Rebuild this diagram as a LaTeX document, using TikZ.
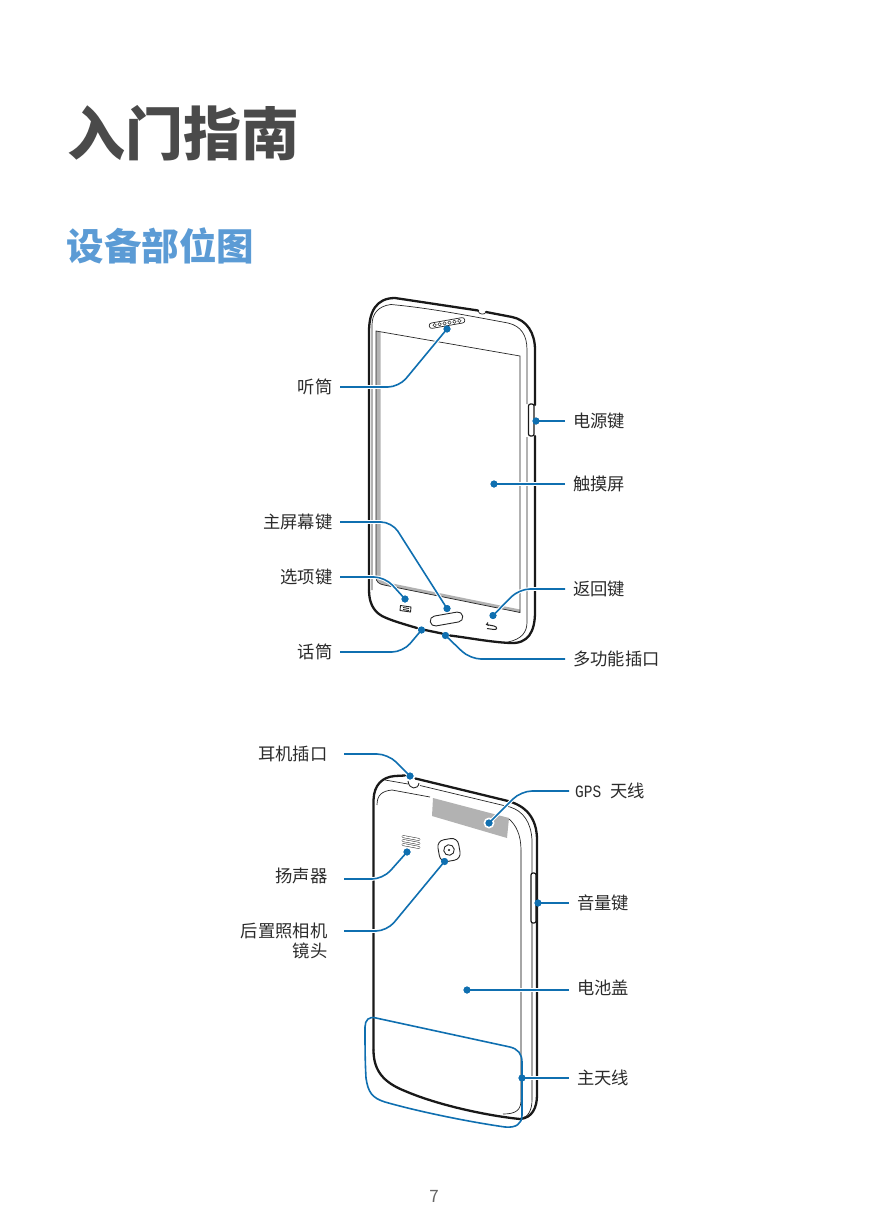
\documentclass[tikz,border=0pt]{standalone}
\usepackage{fontspec}
\setmainfont{Noto Sans CJK SC}
\newfontfamily\gpsfont[FakeStretch=0.84]{Liberation Mono}
\definecolor{calloutblue}{HTML}{0F6FB0}
\definecolor{titlegray}{HTML}{4A4A4A}
\definecolor{headblue}{HTML}{5B9BD5}
\definecolor{labelgray}{HTML}{2B2B2B}
\definecolor{panelgray}{HTML}{B2B2B2}
\tikzset{body/.style={draw=black!90, line width=2.3pt, line cap=round},
trim/.style={draw=black!85, line width=.7pt},
lighttrim/.style={draw=black!35, line width=1.2pt},
callout/.style={preaction={draw=white, line width=3.6pt}, draw=calloutblue, line width=1.6pt, rounded corners=11pt},
spot/.style={circle, fill=calloutblue, inner sep=0pt, minimum size=7pt},
leftlabel/.style={anchor=east, font=\fontsize{17.3}{20}\selectfont, text=labelgray, inner xsep=7.5pt, inner ysep=0pt, text height=13.2pt, text depth=0pt},
rightlabel/.style={anchor=west, font=\fontsize{17.3}{20}\selectfont, text=labelgray, inner xsep=8pt, inner ysep=0pt, text height=13.2pt, text depth=0pt}
}
\begin{document}
\begin{tikzpicture}[x=1pt, y=-1pt]
\useasboundingbox (0,0) rectangle (869,1228);
\node[anchor=west, inner sep=0pt, text=titlegray, font=\fontsize{58}{60}\selectfont\bfseries] (Title) at (67,133) {入门指南};
\node[anchor=west, inner sep=0pt, text=headblue, font=\fontsize{37.5}{40}\selectfont\bfseries] (Heading) at (66.5,246) {设备部位图};
\node[text=black!60, font=\fontsize{17}{20}\selectfont] (Page) at (434,1196) {7};

% front of the phone
\fill[panelgray] (376,331) -- (376,577) .. controls (376,582) and (379,584) .. (384,585) -- (520,612.5) -- (520,609.5) -- (385,582) .. controls (382,581) and (380.5,579) .. (380.5,575) -- (380.5,332) -- cycle;
\draw[trim] (376,331) -- (520,356) -- (520,612.5) -- (384,585) .. controls (379,584) and (376,582) .. (376,577) -- cycle;
\draw[body] (369,590) -- (369,332) .. controls (369,312) and (376,298) .. (395,298) -- (478,310.5);
\draw[body] (486,312) -- (512,317) .. controls (527,320) and (535,333) .. (535,350) -- (535,405);
\draw[body] (535,436) -- (535,612) .. controls (535,632) and (528,644) .. (510,643) .. controls (490,642) and (470,638) .. (450,635.5);
\draw[body] (442,633.5) -- (425,630);
\draw[body] (417,628) .. controls (400,623) and (390,620) .. (382,616) .. controls (373,611) and (369,602) .. (369,590);
\draw[trim] (372,590) -- (372,325) .. controls (372,314) and (378,306) .. (391,304.5) .. controls (430,308) and (470,316) .. (508,323) .. controls (521,326) and (527,335) .. (527,350) -- (527,404);
\draw[trim] (527,437) -- (527,622) .. controls (527,632) and (522,639) .. (508,642);
\draw[body, line width=1.2pt, rounded corners=2pt] (528.5,404) rectangle (534,436);
\draw[trim] (478,311) .. controls (479,315) and (485,315) .. (486,312);
\begin{scope}[shift={(447,323)}, rotate=10]
\draw[trim, rounded corners=2.5pt] (-18,-2.7) rectangle (18,2.7);
\foreach \i in {-12.5,-7.5,...,12.5} \draw[trim, line width=.5pt] (\i,0) circle (1.7pt);
\end{scope}
\draw[trim, line width=.9pt, rounded corners=5pt, rotate around={10:(446.5,619)}] (430,614) rectangle (463,624);
\draw[trim, line width=.9pt] (400.5,605.5) -- (411,607) -- (410.5,612) -- (400,610.5) -- cycle;
\draw[trim, line width=.9pt] (403,607.5) -- (409,608.5) (403,609.5) -- (409,610.5);
\draw[black!85, line width=1pt] (488,622.5) -- (486.5,624.5) -- (489,625.5) (486.5,624.5) -- (494,626) .. controls (498,627) and (497,630) .. (494,629.5) -- (487,628.5);

\node[leftlabel] (Earpiece) at (340,387) {听筒};
\node[leftlabel] (Home Key) at (340,522) {主屏幕键};
\node[leftlabel] (Menu Key) at (340,577) {选项键};
\node[leftlabel] (Mic) at (340,652) {话筒};
\node[rightlabel] (Power Key) at (565,421) {电源键};
\node[rightlabel] (Touch Screen) at (565,484) {触摸屏};
\node[rightlabel] (Back Key) at (565,589) {返回键};
\node[rightlabel] (Multi Jack) at (565,659) {多功能插口};

\node[spot] (Earpiece Spot) at (447,329) {};
\node[spot] (Home Spot) at (447,608.5) {};
\node[spot] (Menu Spot) at (405,599) {};
\node[spot] (Mic Spot) at (421.5,630) {};
\node[spot] (Power Spot) at (536,421) {};
\node[spot] (Touch Spot) at (494,484) {};
\node[spot] (Back Spot) at (493,615.5) {};
\node[spot] (Jack Spot) at (445.5,635.5) {};

\draw[callout] (Earpiece.east) -- (399,0 |- Earpiece.east) -- (Earpiece Spot.center);
\draw[callout] (Home Key.east) -- (392,0 |- Home Key.east) -- (Home Spot.center);
\draw[callout] (Menu Key.east) -- (385,0 |- Menu Key.east) -- (Menu Spot.center);
\draw[callout] (Mic.east) -- (403,0 |- Mic.east) -- (Mic Spot.center);
\draw[callout] (Power Key.west) -- (Power Spot.center);
\draw[callout] (Touch Screen.west) -- (Touch Spot.center);
\draw[callout] (Back Key.west) -- (519,0 |- Back Key.west) -- (Back Spot.center);
\draw[callout] (Multi Jack.west) -- (470,0 |- Multi Jack.west) -- (Jack Spot.center);

\foreach \n in {Earpiece Spot,Home Spot,Menu Spot,Mic Spot,Power Spot,Touch Spot,Back Spot,Jack Spot}
\fill[calloutblue] (\n) circle (3.5pt);

% back of the phone
\fill[panelgray] (433,798) -- (509,818) -- (507,838) -- (432,816) -- cycle;
\draw[body] (373.5,1050) -- (373.5,800) .. controls (374,785) and (382,777) .. (395,776) -- (405,775.5);
\draw[body] (415.5,778.5) -- (508,801) .. controls (526,806) and (537,818) .. (537,840) -- (537,1095) .. controls (537,1108) and (532,1118) .. (520,1119) .. controls (490,1116) and (440,1106) .. (405,1091) .. controls (385,1083) and (373.5,1072) .. (373.5,1050);
\draw[trim] (377,805) .. controls (377,795) and (382,791) .. (392,790) -- (430,797);
\draw[trim] (509,819) .. controls (516,825) and (521,835) .. (521,850);
\draw[lighttrim] (521,850) -- (521,1100);
\draw[trim] (521,1100) .. controls (521,1110) and (516,1114) .. (503,1114);
\draw[trim] (385,780) -- (408,784);
\draw[trim] (420,785.5) -- (510,807) .. controls (523,811) and (531,822) .. (532,840) -- (532,873);
\draw[lighttrim] (532,923) -- (532,1100);
\draw[trim] (532,1100) .. controls (532,1110) and (528,1117) .. (522,1118);
\draw[trim, line width=.9pt] (408,781) .. controls (409,790) and (418,790) .. (419,783);
\draw[body, line width=1.2pt, rounded corners=2pt] (531,873) rectangle (536,923);
\foreach \ty in {836.5,840.5,844.5}
\draw[draw=black!75, line width=.55pt, double=white, double distance=1.6pt, line cap=round] (403,\ty) -- (419,\ty+3);
\begin{scope}[rotate around={10:(449,850)}]
\draw[trim, line width=.9pt, rounded corners=7pt] (438.5,839) rectangle (459.5,861);
\draw[trim, line width=.9pt] (449,850) circle (5.3pt);
\fill[black!85] (449,850) circle (1.2pt);
\end{scope}

\node[leftlabel, inner xsep=16.5pt] (Jack Label) at (344,754) {耳机插口};
\node[leftlabel, inner xsep=16.5pt] (Speaker) at (344,876) {扬声器};
\node[anchor=north east, inner xsep=16.5pt, inner ysep=0pt, align=right, text=labelgray, font=\fontsize{17.3}{20}\selectfont] (Camera) at (344,922.5) {后置照相机\\镜头};
\node[rightlabel, inner xsep=6pt] (GPS) at (569,791) {\gpsfont GPS\hspace{9pt}\rmfamily 天线};
\node[rightlabel] (Volume Key) at (569,903) {音量键};
\node[rightlabel] (Cover) at (569,988) {电池盖};
\node[rightlabel] (Main Antenna) at (569,1078) {主天线};

\coordinate (Speaker Start) at (344,879);
\coordinate (Camera Start) at (344,931);
\coordinate (Jack Start) at (344,754);
\coordinate (Cover Start) at (569,990);

\node[circle, fill=white, inner sep=0pt, minimum size=11pt] (GPS Halo) at (489,823) {};
\node[spot] (Jack Spot B) at (410,776) {};
\node[spot] (GPS Spot) at (489,823) {};
\node[spot] (Speaker Spot) at (407,852) {};
\node[spot] (Camera Spot) at (444.5,861.5) {};
\node[spot] (Volume Spot) at (538,903) {};
\node[spot] (Cover Spot) at (467,990) {};
\node[spot] (Antenna Spot) at (522,1078) {};

\draw[callout] (Jack Start) -- (388,754) -- (Jack Spot B.center);
\draw[callout] (GPS.west) -- (521,0 |- GPS.west) -- (GPS Spot.center);
\draw[callout] (Speaker Start) -- (383,879) -- (Speaker Spot.center);
\draw[callout] (Camera Start) -- (387,931) -- (Camera Spot.center);
\draw[callout] (Volume Key.west) -- (Volume Spot.center);
\draw[callout] (Cover Start) -- (Cover Spot.center);
\draw[callout] (Main Antenna.west) -- (Antenna Spot.center);
\draw[calloutblue, line width=1.6pt] (365,1027) .. controls (365,1020) and (369,1016) .. (376,1018) -- (510,1047) .. controls (518,1049) and (522,1054) .. (522,1062) -- (522,1115) .. controls (522,1124) and (516,1128) .. (505,1127) .. controls (470,1122) and (420,1112) .. (385,1102) .. controls (372,1098) and (368,1092) .. (366,1078) .. controls (365,1060) and (365,1045) .. (365,1027) -- cycle;

\foreach \n in {Jack Spot B,GPS Spot,Speaker Spot,Camera Spot,Volume Spot,Cover Spot,Antenna Spot}
\fill[calloutblue] (\n) circle (3.5pt);
\end{tikzpicture}
\end{document}
